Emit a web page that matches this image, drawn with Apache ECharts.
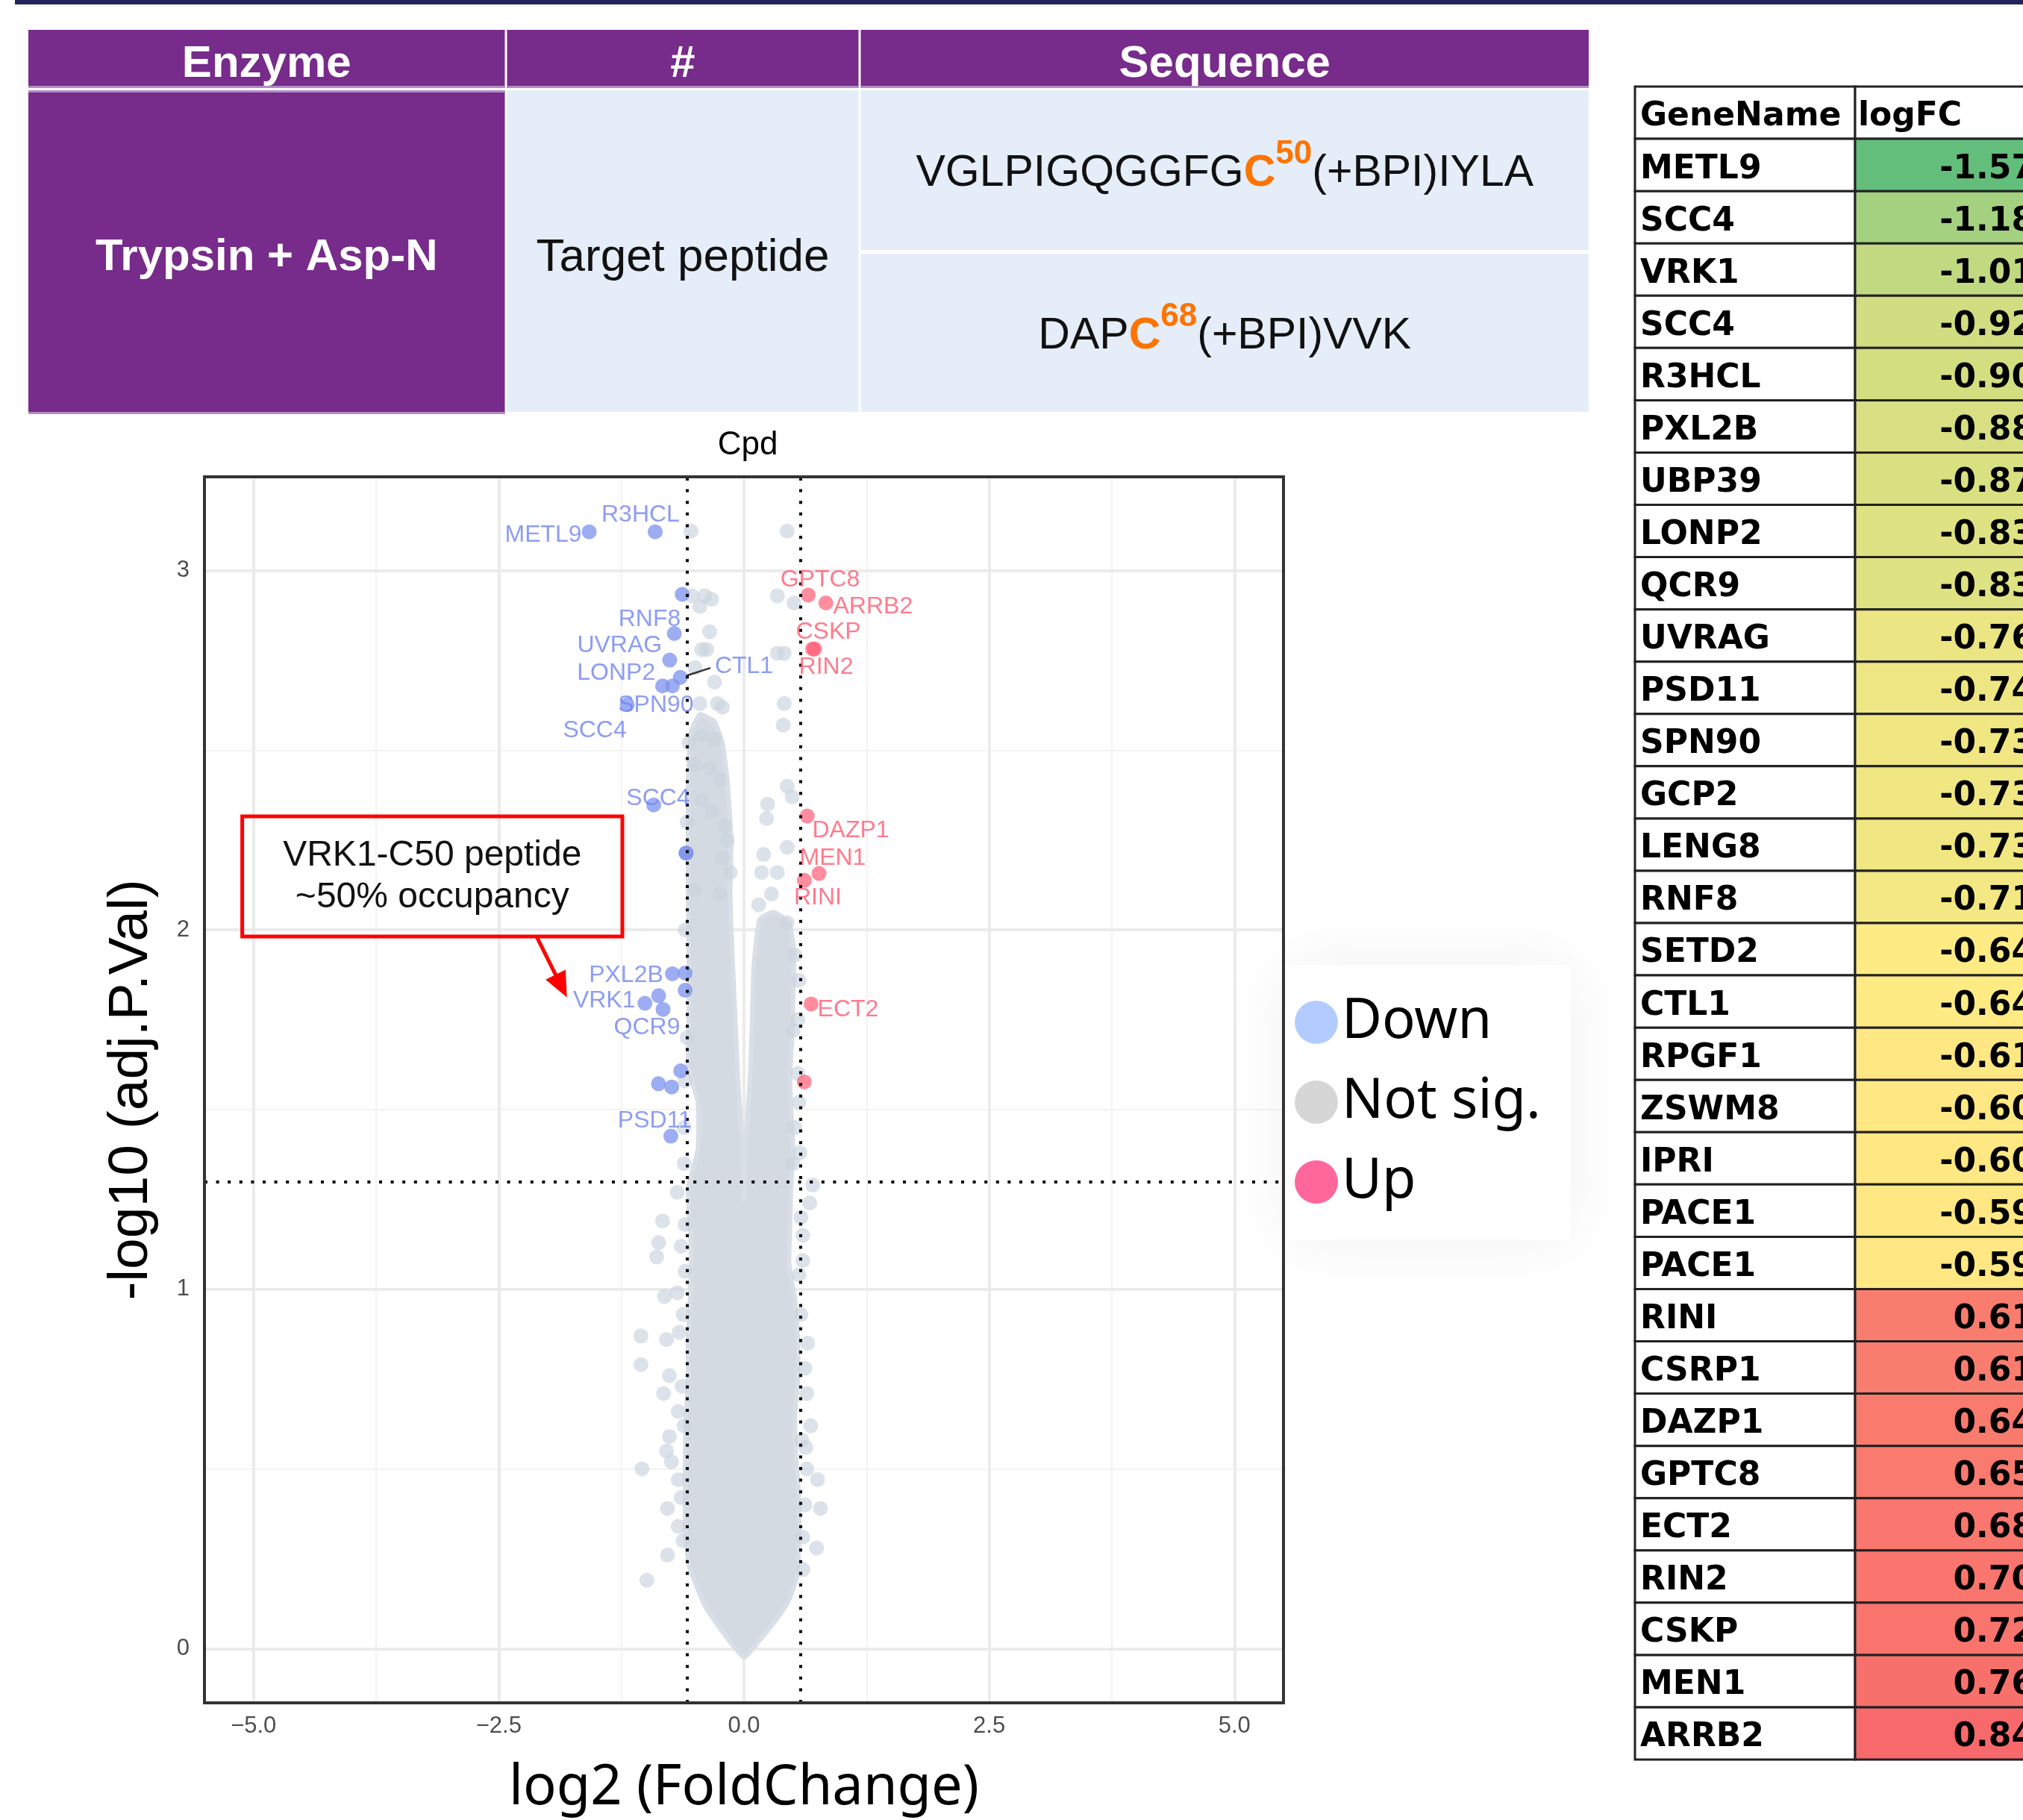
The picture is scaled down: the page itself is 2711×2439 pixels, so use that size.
<!DOCTYPE html>
<html><head><meta charset="utf-8">
<script src="https://cdn.jsdelivr.net/npm/echarts@6/dist/echarts.min.js"></script>
<style>html,body{margin:0;padding:0;background:#fff}#c{width:2711px;height:2439px}</style>
</head><body><div id="c"></div><script>
// ================= DATA =================
const enzymeHeaders = ['Enzyme', '#', 'Sequence'];
const enzymeName = 'Trypsin + Asp-N';
const peptideKind = 'Target peptide';
const peptides = [
  ['VGLPIGQGGFG', 'C', '50', '(+BPI)IYLA'],
  ['DAP', 'C', '68', '(+BPI)VVK']
];

const geneTableHeader = ['GeneName', 'logFC'];
const geneNames = ['METL9','SCC4','VRK1','SCC4','R3HCL','PXL2B','UBP39','LONP2','QCR9','UVRAG','PSD11','SPN90','GCP2','LENG8','RNF8','SETD2','CTL1','RPGF1','ZSWM8','IPRI','PACE1','PACE1','RINI','CSRP1','DAZP1','GPTC8','ECT2','RIN2','CSKP','MEN1','ARRB2'];
const geneLogFC = [-1.57,-1.18,-1.01,-0.92,-0.90,-0.88,-0.87,-0.83,-0.83,-0.76,-0.74,-0.73,-0.73,-0.73,-0.71,-0.64,-0.64,-0.61,-0.60,-0.60,-0.59,-0.59,0.61,0.61,0.64,0.65,0.68,0.70,0.72,0.76,0.84];

const xTicks = [-5, -2.5, 0, 2.5, 5];
const xMinorTicks = [-3.75, -1.25, 1.25, 3.75];
const yTicks = [0, 1, 2, 3];
const yMinorTicks = [0.5, 1.5, 2.5];
const foldThreshold = 0.585;
const pvalThreshold = 1.301;

const downPoints = [[-1.578,3.108],[-0.905,3.108],[-0.63,2.934],[-0.71,2.825],[-0.757,2.751],[-0.65,2.703],[-0.83,2.679],[-0.73,2.679],[-1.19,2.627],[-0.92,2.348],[-0.59,2.214],[-0.59,2.214],[-0.73,1.878],[-0.60,1.880],[-1.01,1.796],[-0.87,1.817],[-0.825,1.779],[-0.60,1.832],[-0.645,1.608],[-0.872,1.572],[-0.737,1.563],[-0.746,1.426]];
const upPoints = [[0.655,2.932],[0.835,2.910],[0.70,2.782],[0.72,2.782],[0.645,2.317],[0.765,2.157],[0.615,2.138],[0.685,1.794],[0.615,1.577]];
// solid core of the non-significant cloud (outline of the fully overlapping points)
const notSigCore = [[0.00,-0.025],[0.15,0.02],[0.30,0.07],[0.45,0.13],[0.54,0.20],[0.56,0.30],[0.56,0.42],[0.53,0.54],[0.52,0.65],[0.55,0.75],[0.55,0.86],[0.52,0.97],[0.46,1.07],[0.47,1.18],[0.48,1.28],[0.50,1.39],[0.48,1.50],[0.47,1.60],[0.49,1.70],[0.50,1.80],[0.51,1.94],[0.46,2.02],[0.30,2.05],[0.16,2.03],[0.10,1.90],[0.08,1.72],[0.06,1.58],[0.02,1.42],[0.00,1.25],[-0.02,1.42],[-0.06,1.58],[-0.09,1.76],[-0.12,1.94],[-0.14,2.10],[-0.13,2.25],[-0.17,2.42],[-0.22,2.52],[-0.30,2.58],[-0.45,2.60],[-0.54,2.55],[-0.57,2.42],[-0.57,2.10],[-0.56,1.80],[-0.57,1.62],[-0.47,1.52],[-0.47,1.39],[-0.57,1.28],[-0.55,1.18],[-0.54,1.07],[-0.55,0.97],[-0.57,0.86],[-0.57,0.75],[-0.59,0.65],[-0.60,0.54],[-0.60,0.44],[-0.60,0.33],[-0.56,0.23],[-0.40,0.12],[-0.20,0.04]];
const notSigPoints = [
  [-0.54,3.11],[-0.53,2.93],[-0.40,2.93],[-0.33,2.92],[-0.45,2.90],[-0.35,2.83],[-0.38,2.78],[-0.43,2.78],[-0.50,2.73],[-0.30,2.69],[-0.27,2.63],[-0.45,2.63],[-0.22,2.62],[-0.43,2.54],[-0.30,2.53],[-0.50,2.46],[-0.35,2.45],[-0.25,2.42],[-0.43,2.36],[-0.33,2.33],[-0.20,2.29],[-0.17,2.25],[-0.22,2.20],[-0.14,2.16],[-0.50,2.11],[-0.25,2.10],
  [0.44,3.11],[0.34,2.93],[0.51,2.91],[0.41,2.77],[0.34,2.77],[0.41,2.63],[0.40,2.57],[0.44,2.40],[0.49,2.37],[0.24,2.35],[0.23,2.31],[0.44,2.23],[0.20,2.21],[0.18,2.16],[0.34,2.16],[0.28,2.10],[0.44,2.02],[0.15,2.07],
  [0.52,1.93],[0.50,1.72],[0.55,1.60],[0.52,1.45],[0.50,1.35],
  [-0.62,0.30],[-0.64,0.42],[-0.61,0.62],[-0.63,0.73],[-0.62,0.93],[-0.64,1.12],[-0.61,1.45],[-0.60,1.58],[-0.58,1.70],[-0.60,2.00],[-0.58,2.30],[-0.56,2.52],
  [0.60,0.22],[0.62,0.40],[0.59,0.58],[0.62,0.78],[0.58,0.93],[0.60,1.08],[0.58,1.20],[0.57,1.38],[0.56,1.52],[0.55,1.75],[0.56,1.86],
  [-0.68,1.27],[-0.61,1.35],[-0.83,1.19],[-0.87,1.13],[-0.89,1.09],[-0.60,1.18],[-0.60,1.05],[-0.81,0.98],[-0.68,0.99],[-1.05,0.87],[-0.79,0.86],[-0.66,0.88],[-1.05,0.79],[-0.76,0.76],[-0.82,0.71],[-0.67,0.66],[-0.76,0.59],[-0.79,0.55],[-1.04,0.50],[-0.74,0.52],[-0.67,0.47],[-0.78,0.39],[-0.67,0.34],[-0.78,0.26],[-0.99,0.19],
  [0.70,1.29],[0.67,1.24],[0.60,1.15],[0.56,1.04],[0.65,0.85],[0.64,0.71],[0.68,0.62],[0.63,0.56],[0.64,0.50],[0.75,0.47],[0.78,0.39],[0.74,0.28],[0.60,0.31]
];
const downLabelNames = ['R3HCL','METL9','RNF8','UVRAG','LONP2','CTL1','SPN90','SCC4','SCC4','PXL2B','VRK1','QCR9','PSD11'];
const downLabelAt = [[-1.054,3.154],[-2.046,3.098],[-0.962,2.864],[-1.268,2.792],[-1.303,2.715],[0.0,2.733],[-0.898,2.626],[-1.521,2.554],[-0.875,2.366],[-1.202,1.874],[-1.425,1.803],[-0.989,1.729],[-0.910,1.468]];
const upLabelNames = ['GPTC8','ARRB2','CSKP','RIN2','DAZP1','MEN1','RINI','ECT2'];
const upLabelAt = [[0.776,2.975],[1.315,2.899],[0.860,2.829],[0.837,2.731],[1.088,2.277],[0.905,2.200],[0.753,2.089],[1.061,1.777]];
const ctl1Leader = [[-0.582,2.708],[-0.342,2.729]];
const calloutBox = [[-5.115,2.316],[-1.240,1.982]];
const calloutText = 'VRK1-C50 peptide\n~50% occupancy';
const calloutArrow = [[-2.111,1.980],[-1.863,1.844]];

// ================= LAYOUT =================
const L = {
  volcano: {left: 274, top: 639, width: 1446, height: 1646},
  enzyme: {left: 38, top: 40, width: 2091, height: 515},
  enzymeCols: [0, 640, 1114, 2091],
  genes: {left: 2191, top: 116, width: 520, height: 2242},
  geneCols: [0, 295, 590]
};
const PURPLE = '#772B8A', PURPLE_LIGHT = '#B48CC6', BODY = '#E5EEF8', ORANGE = '#FF7300';

const enzymeCells = [
  {c:0, r0:0, r1:78, kind:'head', text: enzymeHeaders[0]},
  {c:1, r0:0, r1:78, kind:'head', text: enzymeHeaders[1]},
  {c:2, r0:0, r1:78, kind:'head', text: enzymeHeaders[2]},
  {c:0, r0:81, r1:515, kind:'enzyme', text: enzymeName},
  {c:1, r0:81, r1:512, kind:'kind', text: peptideKind},
  {c:2, r0:81, r1:295, kind:'seq', pep: peptides[0]},
  {c:2, r0:300, r1:512, kind:'seq', pep: peptides[1]}
];

function renderEnzymeCell(params, api) {
  const cell = enzymeCells[params.dataIndex];
  const g = 1.5;
  const p0 = api.coord([L.enzymeCols[cell.c] + (cell.c > 0 ? g : 0), cell.r0]);
  const p1 = api.coord([L.enzymeCols[cell.c + 1] - (cell.c < 2 ? g : 0), cell.r1]);
  const x = p0[0], y = p0[1], w = p1[0] - p0[0], h = p1[1] - p0[1];
  const cx = x + w / 2, cy = y + h / 2;
  const children = [];
  const isPurple = cell.kind === 'head' || cell.kind === 'enzyme';
  children.push({type:'rect', shape:{x, y, width:w, height:h}, style:{fill: isPurple ? PURPLE : BODY}});
  if (cell.kind === 'head') {
    children.push({type:'rect', shape:{x, y:y+h-3, width:w, height:3}, style:{fill: PURPLE_LIGHT}});
  }
  if (cell.kind === 'enzyme') {
    children.push({type:'rect', shape:{x, y, width:w, height:3}, style:{fill: PURPLE_LIGHT}});
    children.push({type:'rect', shape:{x, y:y+h-3, width:w, height:3}, style:{fill: PURPLE_LIGHT}});
  }
  if (cell.kind === 'head' || cell.kind === 'enzyme') {
    children.push({type:'text', style:{text: cell.text, x: cx, y: cy + 7, align:'center', verticalAlign:'middle',
      fill:'#fff', fontSize: 60, fontWeight:'bold', fontFamily:'Liberation Sans'}});
  } else if (cell.kind === 'kind') {
    children.push({type:'text', style:{text: cell.text, x: cx, y: cy + 9, align:'center', verticalAlign:'middle',
      fill:'#111', fontSize: 62, fontFamily:'Liberation Sans'}});
  } else {
    const p = cell.pep;
    children.push({type:'text', style:{
      text: '{n|' + p[0] + '}{c|' + p[1] + '}{s|' + p[2] + '}{n|' + p[3] + '}',
      x: cx, y: cy + 5, align:'center', verticalAlign:'middle',
      rich: {
        n: {fontSize: 59, fontFamily:'Liberation Sans', fill:'#111', lineHeight: 96},
        c: {fontSize: 59, fontFamily:'Liberation Sans', fontWeight:'bold', fill: ORANGE, lineHeight: 96},
        s: {fontSize: 44, fontFamily:'Liberation Sans', fontWeight:'bold', fill: ORANGE, lineHeight: 44, verticalAlign:'top'}
      }}});
  }
  return {type:'group', children};
}

// gene table colour scale (3-colour scale: min green, median yellow, max red)
const sortedFC = geneLogFC.slice().sort((a, b) => a - b);
const fcMin = sortedFC[0], fcMax = sortedFC[sortedFC.length - 1], fcMid = sortedFC[(sortedFC.length - 1) / 2];
function scaleColor(v) {
  const G = [99,190,123], Y = [255,235,132], R = [248,105,107];
  let a, b, t;
  if (v <= fcMid) { a = G; b = Y; t = (v - fcMin) / (fcMid - fcMin); }
  else { a = Y; b = R; t = (v - fcMid) / (fcMax - fcMid); }
  const c = a.map((av, i) => Math.round(av + (b[i] - av) * t));
  return 'rgb(' + c.join(',') + ')';
}
const geneRows = ['header'].concat(geneNames.map((n, i) => 'r' + i));
const geneCells = [];
geneRows.forEach((r, ri) => { geneCells.push([0, ri]); geneCells.push([1, ri]); });

function renderGeneCell(params, api) {
  const col = api.value(0), row = api.value(1);
  const a = api.coord([L.geneCols[col], row]);
  const b = api.coord([L.geneCols[col + 1], row]);
  const hgt = api.size([1, 1])[1];
  const x = a[0], w = b[0] - a[0], y = a[1] - hgt / 2, cy = a[1];
  let fill = '#fff', text, align = 'left', tx = x + 7;
  if (row === 0) { text = geneTableHeader[col]; tx = col === 0 ? x + 7 : x + 4; }
  else if (col === 0) { text = geneNames[row - 1]; }
  else { const v = geneLogFC[row - 1]; fill = scaleColor(v); text = v.toFixed(2); align = 'right'; tx = x + w - 55; }
  return {type:'group', children:[
    {type:'rect', shape:{x, y, width: w, height: hgt}, style:{fill, stroke:'#222', lineWidth: 3}},
    {type:'text', style:{text, x: tx, y: cy + 6, align, verticalAlign:'middle', fill:'#000',
      fontSize: 44, fontWeight:'bold', fontFamily:'DejaVu Sans'}}
  ]};
}

// ================= CHART =================
const chart = echarts.init(document.getElementById('c'), null, {renderer:'canvas'});
const fmtX = v => (v < 0 ? '\u2212' : '') + Math.abs(v).toFixed(1);
const gridLine = (axis, v, major) => ({[axis]: v, lineStyle:{color: major ? '#EBEBEB' : '#F3F3F3', width: major ? 4 : 2, type:'solid'}});

const option = {
  animation: false,
  backgroundColor: '#fff',
  title: [{text:'Cpd', left: 997, top: 570, textAlign:'center',
    textStyle:{fontSize: 44, fontWeight:'normal', color:'#000', fontFamily:'Liberation Sans'}}],
  graphic: [{type:'rect', left: 20, top: 0, shape:{width: 2691, height: 6}, style:{fill:'#24245C'}}],
  legend: {
    orient:'vertical', left: 1722, top: 1293, padding:[40, 40, 40, 13],
    itemWidth: 58, itemHeight: 58, itemGap: 33, icon:'circle', selectedMode: false,
    backgroundColor:'#fff', shadowBlur: 90, shadowColor:'rgba(0,0,0,0.06)',
    textStyle:{fontSize: 74, lineHeight: 74, fontFamily:'Noto Sans', color:'#000'},
    data:[
      {name:'Down', itemStyle:{color:'#B3CCFF', opacity:1}},
      {name:'Not sig.', itemStyle:{color:'#D6D6D6', opacity:1}},
      {name:'Up', itemStyle:{color:'#FF6699', opacity:1}}
    ]
  },
  grid: [
    Object.assign({show: true, z: 20, borderColor:'#333', borderWidth: 4, backgroundColor:'rgba(0,0,0,0)', containLabel:false}, L.volcano),
    Object.assign({show: false}, L.enzyme),
    Object.assign({show: false}, L.genes)
  ],
  xAxis: [
    {type:'value', gridIndex: 0, min: -5.5, max: 5.5,
      axisLine:{show:false}, splitLine:{show:false},
      axisTick:{show:true, customValues: xTicks, length: 12, lineStyle:{color:'#333', width: 3}},
      axisLabel:{customValues: xTicks, formatter: fmtX, margin: 16, fontSize: 31, color:'#4D4D4D', fontFamily:'Liberation Sans'},
      name:'log2 (FoldChange)', nameLocation:'middle', nameGap: 78,
      nameTextStyle:{fontSize: 74, color:'#000', fontFamily:'Noto Sans'}},
    {type:'value', gridIndex: 1, min: 0, max: L.enzyme.width, show: false},
    {type:'value', gridIndex: 2, min: 0, max: L.genes.width, show: false}
  ],
  yAxis: [
    {type:'value', gridIndex: 0, min: -0.151, max: 3.261,
      axisLine:{show:false}, splitLine:{show:false},
      axisTick:{show:true, customValues: yTicks, length: 12, lineStyle:{color:'#333', width: 3}},
      axisLabel:{customValues: yTicks, formatter: v => String(v), margin: 20, fontSize: 31, color:'#4D4D4D', fontFamily:'Liberation Sans'},
      name:'-log10 (adj.P.Val)', nameLocation:'middle', nameGap: 60,
      nameTextStyle:{fontSize: 75, color:'#000', fontFamily:'Liberation Sans'}},
    {type:'value', gridIndex: 1, min: 0, max: L.enzyme.height, inverse: true, show: false},
    {type:'category', gridIndex: 2, data: geneRows, inverse: true, show: false}
  ],
  series: [
    {name:'gridlines', type:'scatter', xAxisIndex:0, yAxisIndex:0, data:[], silent:true, z:1,
      markLine:{silent:true, z:1, symbol:['none','none'], label:{show:false}, animation:false,
        data: [].concat(
          xMinorTicks.map(v => gridLine('xAxis', v, false)),
          yMinorTicks.map(v => gridLine('yAxis', v, false)),
          xTicks.map(v => gridLine('xAxis', v, true)),
          yTicks.map(v => gridLine('yAxis', v, true)))}},
    {name:'cloud', type:'custom', xAxisIndex:0, yAxisIndex:0, data: notSigCore, silent:true, z:2,
      encode:{x:0, y:1},
      renderItem: (params, api) => {
        if (params.dataIndex !== 0) return null;
        return {type:'polygon', shape:{points: notSigCore.map(p => api.coord(p)), smooth: 0.15},
          style:{fill:'#D3DAE2', stroke:'#D9DFE6', lineWidth: 6}};
      }},
    {name:'Not sig.', type:'scatter', xAxisIndex:0, yAxisIndex:0, data: notSigPoints, symbolSize: 20, z:3,
      itemStyle:{color:'#C9D2DD', opacity: 0.65}},
    {name:'Down', type:'scatter', xAxisIndex:0, yAxisIndex:0, data: downPoints, symbolSize: 20, z:4,
      itemStyle:{color:'#7C91EE', opacity: 0.75}},
    {name:'Up', type:'scatter', xAxisIndex:0, yAxisIndex:0, data: upPoints, symbolSize: 20, z:4,
      itemStyle:{color:'#FF5C73', opacity: 0.7}},
    {name:'thresholds', type:'scatter', xAxisIndex:0, yAxisIndex:0, data:[], silent:true, z:5,
      markLine:{silent:true, z:8, symbol:['none','none'], label:{show:false}, animation:false,
        lineStyle:{color:'#000', width: 4, type:[4, 11.6]},
        data:[{xAxis: -foldThreshold}, {xAxis: foldThreshold}, {yAxis: pvalThreshold}]}},
    {name:'ctl1Leader', type:'line', xAxisIndex:0, yAxisIndex:0, data: ctl1Leader, symbol:'none', silent:true, z:6,
      lineStyle:{color:'#333', width: 2.5}},
    {name:'downLabels', type:'scatter', xAxisIndex:0, yAxisIndex:0, symbolSize: 0.1, silent:true, z:9,
      itemStyle:{color:'rgba(0,0,0,0)'},
      data: downLabelNames.map((n, i) => ({name: n, value: downLabelAt[i]})),
      label:{show:true, position:'inside', formatter:'{b}', color:'#7084F0', fontSize: 32, fontFamily:'Liberation Sans'}},
    {name:'upLabels', type:'scatter', xAxisIndex:0, yAxisIndex:0, symbolSize: 0.1, silent:true, z:9,
      itemStyle:{color:'rgba(0,0,0,0)'},
      data: upLabelNames.map((n, i) => ({name: n, value: upLabelAt[i]})),
      label:{show:true, position:'inside', formatter:'{b}', color:'#FF5A70', fontSize: 32, fontFamily:'Liberation Sans'}},
    {name:'callout', type:'scatter', xAxisIndex:0, yAxisIndex:0, data:[], silent:true, z:10,
      markArea:{silent:true, z:10,
        itemStyle:{color:'rgba(0,0,0,0)', borderColor:'#FF0000', borderWidth: 5},
        label:{show:true, position:'inside', formatter: calloutText, fontSize: 48, lineHeight: 56, color:'#111', fontFamily:'Liberation Sans'},
        data:[[{coord: calloutBox[0]}, {coord: calloutBox[1]}]]},
      markLine:{silent:true, z:10, symbol:['none','triangle'], symbolSize:[30, 34], label:{show:false},
        lineStyle:{color:'#FF0000', width: 5, type:'solid'},
        data:[[{coord: calloutArrow[0]}, {coord: calloutArrow[1]}]]}},
    {name:'enzymeTable', type:'custom', xAxisIndex:1, yAxisIndex:1, silent:true,
      data: enzymeCells.map((c, i) => [i]), encode:{x:0}, renderItem: renderEnzymeCell, clip:false},
    {name:'geneTable', type:'custom', xAxisIndex:2, yAxisIndex:2, silent:true,
      data: geneCells, encode:{x:0, y:1}, renderItem: renderGeneCell, clip:false}
  ]
};
chart.setOption(option);
</script></body></html>
